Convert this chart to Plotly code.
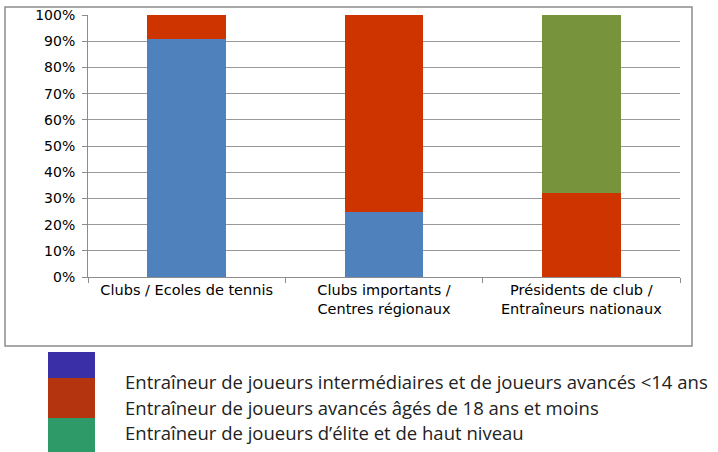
import plotly.graph_objects as go

categories = ["Clubs / Ecoles de tennis", "Clubs importants /<br>Centres régionaux", "Présidents de club /<br>Entraîneurs nationaux"]
series_names = [
    "Entraîneur de joueurs intermédiaires et de joueurs avancés <14 ans",
    "Entraîneur de joueurs avancés âgés de 18 ans et moins",
    "Entraîneur de joueurs d’élite et de haut niveau",
]
intermediaires = [91, 25, 0]
avances18 = [9, 75, 32]
elite = [0, 0, 68]
bar_colors = ["#4F81BD", "#CD3400", "#77933C"]
legend_colors = ["#3A2FA6", "#B3340F", "#2E9A68"]
yticks = [0, 10, 20, 30, 40, 50, 60, 70, 80, 90, 100]
ytick_labels = [f"{v}%" for v in yticks]

fig = go.Figure()
for name, vals, col in zip(series_names, [intermediaires, avances18, elite], bar_colors):
    fig.add_trace(go.Bar(x=categories, y=vals, name=name, marker_color=col,
                         marker_line_width=0, showlegend=False, hoverinfo="skip"))

L, R, T, B = 88, 680, 15, 277
W, H = 718, 452
pw, ph = R - L, B - T
def px(x): return (x - L) / pw
def py(y): return (B - y) / ph

shapes = [dict(type="rect", xref="paper", yref="paper",
               x0=px(5), x1=px(692), y0=py(346), y1=py(7),
               line=dict(color="#8C8C8C", width=1.5), fillcolor="rgba(0,0,0,0)", layer="below")]
sw = [(352, 378), (378, 418), (418, 452)]
for (a, b), col in zip(sw, legend_colors):
    shapes.append(dict(type="rect", xref="paper", yref="paper",
                       x0=px(48), x1=px(95), y0=py(b), y1=py(a),
                       line=dict(width=0), fillcolor=col))
annotations = []
for name, yc in zip(series_names, [381, 407, 432]):
    annotations.append(dict(xref="paper", yref="paper", x=px(123), y=py(yc),
                            text=name.replace("<", "&lt;"), showarrow=False, xanchor="left", yanchor="middle",
                            font=dict(family="Open Sans", size=18.5, color="#222")))

fig.update_layout(
    width=W, height=H, barmode="stack", bargap=0.6,
    margin=dict(l=L, r=W - R, t=T, b=H - B, autoexpand=False),
    paper_bgcolor="white", plot_bgcolor="white",
    shapes=shapes, annotations=annotations,
    font=dict(family="DejaVu Sans", size=13, color="#000"),
    xaxis=dict(type="category", showline=True, linecolor="#8C8C8C", linewidth=1,
               ticks="outside", tickson="boundaries", ticklen=5, tickcolor="#8C8C8C",
               showgrid=False, automargin=False, tickfont=dict(size=14.5),
               ticklabeloverflow="allow"),
    yaxis=dict(range=[0, 100], tickvals=yticks, ticktext=ytick_labels, showline=True,
               linecolor="#8C8C8C", linewidth=1, ticks="outside", ticklen=5,
               tickcolor="#8C8C8C", showgrid=True, gridcolor="#999999", gridwidth=1,
               zeroline=False, automargin=False, tickfont=dict(size=14),
               ticklabeloverflow="allow", ticklabelstandoff=4),
)
fig.write_html("out.html", config={"displayModeBar": False, "staticPlot": True},
               post_script="document.body.style.margin='0px';document.body.style.overflow='hidden';")
